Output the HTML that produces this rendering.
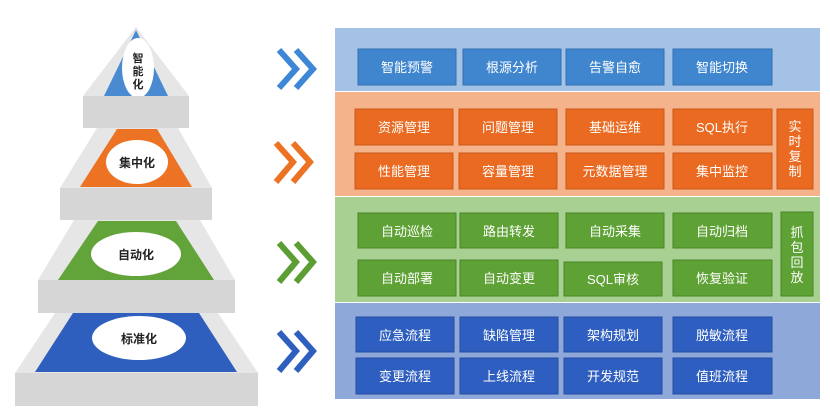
<!DOCTYPE html>
<html><head><meta charset="utf-8"><style>
body{margin:0;width:830px;height:412px;background:#fff;overflow:hidden;font-family:"Liberation Sans","Noto Sans CJK SC",sans-serif}
svg{position:absolute;left:0;top:0}
</style></head><body>
<svg width="830" height="412" viewBox="0 0 830 412" font-family="Liberation Sans, Noto Sans CJK SC, sans-serif">
<defs>
<linearGradient id="gs" x1="0" x2="0" y1="0" y2="1"><stop offset="0" stop-color="#e8e8e8"/><stop offset="1" stop-color="#d4d4d4"/></linearGradient>
</defs>
<!-- Pyramid tier 1 -->
<polygon points="136,27 189,96 83,96" fill="#e6e6e6"/>
<polygon points="136,30 168,96 104,96" fill="#4a8ad0"/>
<ellipse cx="138" cy="68" rx="16" ry="30" fill="#fff"/>
<text x="138" y="62" font-size="11" font-weight="bold" text-anchor="middle" fill="#222">智</text>
<text x="138" y="75" font-size="11" font-weight="bold" text-anchor="middle" fill="#222">能</text>
<text x="138" y="88" font-size="11" font-weight="bold" text-anchor="middle" fill="#222">化</text>
<rect x="83" y="96" width="106" height="32" fill="#d6d6d6"/>
<!-- tier 2 -->
<polygon points="97,128 178,128 212,188 60,188" fill="#e6e6e6"/>
<polygon points="117,129 157,129 192,187 80,187" fill="#ed7324"/>
<ellipse cx="137" cy="162" rx="31" ry="22" fill="#fff"/>
<text x="137" y="167" font-size="12" font-weight="bold" text-anchor="middle" fill="#222">集中化</text>
<rect x="60" y="188" width="152" height="32" fill="#d6d6d6"/>
<!-- tier 3 -->
<polygon points="74,220 200,220 235,280 38,280" fill="#e6e6e6"/>
<polygon points="98,221 176,221 214,280 58,280" fill="#62a33a"/>
<ellipse cx="136" cy="254" rx="45" ry="22" fill="#fff"/>
<text x="136" y="259" font-size="12" font-weight="bold" text-anchor="middle" fill="#222">自动化</text>
<rect x="38" y="280" width="197" height="33" fill="#d6d6d6"/>
<!-- tier 4 -->
<polygon points="55,313 218,313 258,373 15,373" fill="#e6e6e6"/>
<polygon points="73,313 199,313 237,372 35,372" fill="#2f5fbe"/>
<ellipse cx="139" cy="338" rx="47" ry="22" fill="#fff"/>
<text x="139" y="343" font-size="12" font-weight="bold" text-anchor="middle" fill="#222">标准化</text>
<rect x="15" y="373" width="243" height="33" fill="#d6d6d6"/>
<!-- chevrons -->
<g fill="none" stroke-width="6" stroke-linejoin="miter">
<path d="M279,50 L296,69 L279,88 M296,50 L313,69 L296,88" stroke="#3d87d6"/>
<path d="M276,143 L293,162 L276,182 M293,143 L310,162 L293,182" stroke="#ed7324"/>
<path d="M279,243 L296,262 L279,282 M296,243 L313,262 L296,282" stroke="#5d9e34"/>
<path d="M279,332 L296,351 L279,371 M296,332 L313,351 L296,371" stroke="#2f5fbe"/>
</g>
<!-- bands -->
<rect x="335" y="28" width="485" height="63" fill="#a3c2e6"/>
<rect x="335" y="92" width="485" height="104" fill="#f4b38b"/>
<rect x="335" y="197" width="485" height="105" fill="#a8d092"/>
<rect x="335" y="303" width="485" height="96" fill="#8ea8da"/>
<g font-size="13" text-anchor="middle" fill="#fff">
<!-- top -->
<g fill="#3f86cf" stroke="#3570b0" stroke-width="1">
<rect x="358" y="49" width="98" height="36"/><rect x="463" y="49" width="98" height="36"/><rect x="566" y="49" width="98" height="36"/><rect x="673" y="49" width="99" height="36"/>
</g>
<text x="407" y="72">智能预警</text><text x="512" y="72">根源分析</text><text x="615" y="72">告警自愈</text><text x="722" y="72">智能切换</text>
<!-- orange -->
<g fill="#e96a20" stroke="#c9581a">
<rect x="355" y="109" width="98" height="36"/><rect x="459" y="109" width="98" height="36"/><rect x="566" y="109" width="98" height="36"/><rect x="673" y="109" width="99" height="36"/>
<rect x="355" y="153" width="98" height="36"/><rect x="459" y="153" width="98" height="36"/><rect x="566" y="153" width="98" height="36"/><rect x="673" y="153" width="99" height="36"/>
<rect x="777" y="109" width="36" height="80"/>
</g>
<text x="404" y="132">资源管理</text><text x="508" y="132">问题管理</text><text x="615" y="132">基础运维</text><text x="722" y="132">SQL执行</text>
<text x="404" y="176">性能管理</text><text x="508" y="176">容量管理</text><text x="615" y="176">元数据管理</text><text x="722" y="176">集中监控</text>
<text x="795" y="131">实</text><text x="795" y="146">时</text><text x="795" y="161">复</text><text x="795" y="176">制</text>
<!-- green -->
<g fill="#5ea134" stroke="#4b8628">
<rect x="358" y="213" width="98" height="35"/><rect x="460" y="213" width="98" height="35"/><rect x="566" y="213" width="98" height="35"/><rect x="673" y="213" width="99" height="35"/>
<rect x="358" y="260" width="98" height="36"/><rect x="460" y="260" width="98" height="36"/><rect x="564" y="262" width="98" height="34"/><rect x="673" y="260" width="99" height="36"/>
<rect x="781" y="212" width="32" height="84"/>
</g>
<text x="407" y="236">自动巡检</text><text x="509" y="236">路由转发</text><text x="615" y="236">自动采集</text><text x="722" y="236">自动归档</text>
<text x="407" y="283">自动部署</text><text x="509" y="283">自动变更</text><text x="613" y="284">SQL审核</text><text x="722" y="283">恢复验证</text>
<text x="797" y="237">抓</text><text x="797" y="252">包</text><text x="797" y="267">回</text><text x="797" y="282">放</text>
<!-- blue -->
<g fill="#2e5ebf" stroke="#264fa0">
<rect x="356" y="317" width="98" height="35"/><rect x="460" y="317" width="98" height="35"/><rect x="564" y="317" width="98" height="35"/><rect x="673" y="317" width="99" height="35"/>
<rect x="356" y="358" width="98" height="36"/><rect x="460" y="358" width="98" height="36"/><rect x="564" y="358" width="98" height="36"/><rect x="673" y="358" width="99" height="36"/>
</g>
<text x="405" y="340">应急流程</text><text x="509" y="340">缺陷管理</text><text x="613" y="340">架构规划</text><text x="722" y="340">脱敏流程</text>
<text x="405" y="381">变更流程</text><text x="509" y="381">上线流程</text><text x="613" y="381">开发规范</text><text x="722" y="381">值班流程</text>
</g>
</svg>
</body></html>
